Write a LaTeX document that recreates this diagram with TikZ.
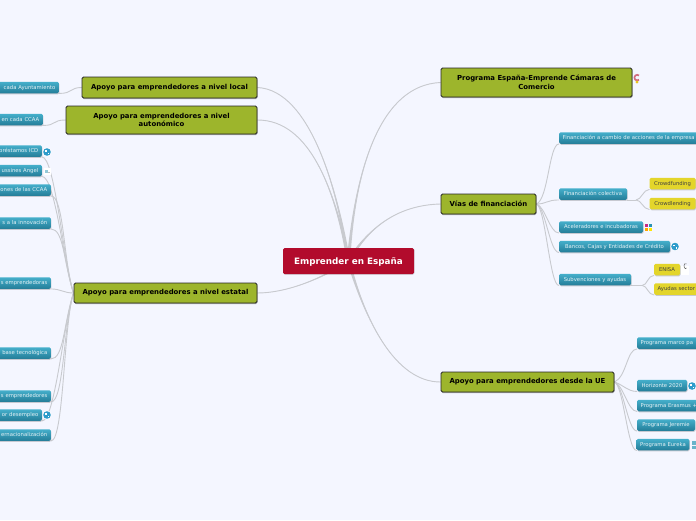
\documentclass[tikz,border=0pt]{standalone}
\usepackage{fontspec}
\setmainfont{DejaVu Sans}
\usetikzlibrary{backgrounds, shadows}
\definecolor{pageBlue}{HTML}{F4F6FF}
\definecolor{softRed}{HTML}{B20B2C}
\definecolor{softGreen}{HTML}{9DB52C}
\definecolor{softTeal}{HTML}{2A93B3}
\definecolor{softTealTop}{HTML}{45AFCB}
\definecolor{softYellow}{HTML}{E3D52B}
\definecolor{softGrey}{HTML}{C8CACF}
\definecolor{softGlobe}{HTML}{2E9CCB}
\newcommand{\globeicon}[1]{%
  \fill[white] (#1) circle (4.4);
  \fill[softGlobe] (#1) circle (3.8);
  \fill[white] (#1) ++(-1.8,-1.6) rectangle ++(1.8,1.4);
  \fill[white] (#1) ++(0.6,0.6) rectangle ++(1.6,1.6);
}
% branch from the root, wider where it leaves the root
\newcommand{\trunkto}[5]{%
  \fill[softGrey] ([shift={(-#4,-#5)}]root.center) .. controls #2 and #3 .. (#1) .. controls #3 and #2 .. ([shift={(#4,#5)}]root.center) -- cycle;
  \draw[softGrey, line width=0.9pt] (root.center) .. controls #2 and #3 .. (#1);
}
\tikzset{
  rootbox/.style={fill=softRed, rounded corners=1.5pt, text=white, font=\bfseries\fontsize{8.8}{10}\selectfont, minimum width=131, minimum height=26, text height=7pt, text depth=0.5pt, inner sep=0pt, drop shadow={shadow xshift=0.4pt, shadow yshift=-0.6pt, opacity=.2, fill=black}},
  mainbox/.style={draw=black!85, line width=0.9pt, fill=softGreen, rounded corners=1.5pt, text=black, align=center, font=\bfseries\fontsize{6.9}{8.8}\selectfont, inner sep=0pt, drop shadow={shadow xshift=0.5pt, shadow yshift=-1pt, opacity=.3, fill=black}},
  tealbox/.style={top color=softTealTop, bottom color=softTeal!85!black, rounded corners=1.5pt, text=white!88!softTeal, font=\fontsize{5.3}{7}\selectfont, minimum height=11.5, text height=4pt, text depth=1pt, inner xsep=3.5pt, inner ysep=0pt, drop shadow={shadow xshift=0.5pt, shadow yshift=-1pt, opacity=.18, fill=black}},
  leftbox/.style={tealbox, anchor=east, text width=100pt, align=right},
  rightbox/.style={tealbox, anchor=west, text width=180pt, align=left},
  sunbox/.style={fill=softYellow, rounded corners=1.5pt, text=black!75, font=\fontsize{5.3}{7}\selectfont, minimum height=11.5, text height=4pt, text depth=1pt, inner xsep=3.5pt, inner ysep=0pt, drop shadow={shadow xshift=0.5pt, shadow yshift=-1pt, opacity=.18, fill=black}},
  link/.style={softGrey, line width=0.9pt, line cap=round}
}
\begin{document}
\begin{tikzpicture}[x=1pt, y=-1pt]
  \useasboundingbox (0,0) rectangle (696,520);
  \clip (0,0) rectangle (696,520);
  % main topics
  \node[rootbox] (root) at (348.5,261) {Emprender en España};
  \node[mainbox, minimum width=175, minimum height=21] (local) at (169.5,87.5) {Apoyo para emprendedores a nivel local};
  \node[mainbox, minimum width=191, minimum height=28] (auton) at (161.5,120) {Apoyo para emprendedores a nivel\\autonómico};
  \node[mainbox, minimum width=183, minimum height=20] (estatal) at (165.5,293) {Apoyo para emprendedores a nivel estatal};
  \node[mainbox, minimum width=191, minimum height=29] (camaras) at (536.5,82.5) {Programa España-Emprende Cámaras de\\Comercio};
  \node[mainbox, minimum width=95, minimum height=20] (vias) at (488.5,204) {Vías de financiación};
  \node[mainbox, minimum width=173, minimum height=20] (union) at (527.5,382) {Apoyo para emprendedores desde la UE};
  % left side, cut by the page edge
  \node[leftbox] (ayto) at (59,87.5) {cada Ayuntamiento};
  \node[leftbox] (ccaa) at (43,119.5) {en cada CCAA};
  \node[leftbox] (icd) at (42,151) {préstamos ICD};
  \node[leftbox] (angel) at (42,170.5) {ussines Angel};
  \node[leftbox] (ayudas) at (51,190) {ones de las CCAA};
  \node[leftbox] (innova) at (51,223) {s a la innovación};
  \node[leftbox] (empras) at (51,283) {s emprendedoras};
  \node[leftbox] (tecno) at (51,353) {base tecnológica};
  \node[leftbox] (empres) at (51,396) {s emprendedores};
  \node[leftbox] (desem) at (42,415) {or desempleo};
  \node[leftbox] (inter) at (51,435) {ernacionalización};
  % right side
  \node[rightbox] (accion) at (559,138) {Financiación a cambio de acciones de la empresa};
  \node[tealbox, minimum width=68] (colect) at (593,194) {Financiación colectiva};
  \node[tealbox, minimum width=84] (acele) at (601,227) {Aceleradores e incubadoras};
  \node[tealbox, minimum width=111] (bancos) at (614.5,246.5) {Bancos, Cajas y Entidades de Crédito};
  \node[tealbox, minimum width=72] (subven) at (595,279.5) {Subvenciones y ayudas};
  \node[sunbox, minimum width=46] (cfund) at (672.5,183.5) {Crowdfunding};
  \node[sunbox, minimum width=46] (clend) at (672.5,203.5) {Crowdlending};
  \node[sunbox, minimum width=26] (enisa) at (667,269.5) {ENISA};
  \node[sunbox, anchor=west, text width=80pt] (sector) at (654,289) {Ayudas sector};
  \node[rightbox] (marco) at (637,343) {Programa marco pa};
  \node[tealbox, minimum width=50] (horiz) at (662,385.5) {Horizonte 2020};
  \node[rightbox] (erasmus) at (637,405.5) {Programa Erasmus +};
  \node[tealbox, minimum width=58] (jeremie) at (666,425) {Programa Jeremie};
  \node[tealbox, minimum width=52] (eureka) at (663,444.5) {Programa Eureka};
  % small icons
  \globeicon{47,152}
  \globeicon{47,415}
  \globeicon{675,246.5}
  \globeicon{692,386}
  \fill[white] (43.5,167.5) rectangle (50.5,174.5);
  \fill[softTeal!50] (45,170) rectangle (48,173);
  \fill[black!25] (48,171.5) rectangle (49.5,173);
  \fill[magenta!80!black] (644.5,223.5) rectangle (648,227);
  \fill[softTeal] (648.5,223.5) rectangle (652,227);
  \fill[orange!70!yellow] (644.5,227.5) rectangle (648,231);
  \fill[yellow!90!orange] (648.5,227.5) rectangle (652,231);
  \draw[softRed!60!white, line width=1.7pt] (639,79.8) arc (50:310:2.8);
  \fill[softYellow!80!orange] (637,82) circle (1.6);
  \fill[white] (680.5,266) rectangle (689,275);
  \draw[black!60, line width=0.6pt] (686.5,268) arc (50:310:1.5 and 2.7);
  \fill[softTeal!70] (691.5,441) rectangle (696,444.5);
  \fill[softTeal!70] (691.5,445.5) rectangle (696,449);
  \begin{pgfonlayer}{background}
    \fill[pageBlue] (0,0) rectangle (696,520);
    \trunkto{local.east}{(338,190)}{(310,90)}{1.8}{0}
    \trunkto{auton.east}{(335,190)}{(310,120)}{1.8}{0}
    \trunkto{estatal.east}{(320,280)}{(285,293)}{0}{1.8}
    \trunkto{camaras.west}{(355,170)}{(380,85)}{1.8}{0}
    \trunkto{vias.west}{(370,225)}{(400,205)}{1.3}{1.3}
    \trunkto{union.west}{(365,320)}{(395,382)}{1.8}{0}
    \draw[link] (local.west) .. controls +(-12,0) and +(14,0) .. (ayto.south east);
    \draw[link] (auton.west) .. controls +(-14,0) and +(14,0) .. (ccaa.south east);
    % far children come in steeply, near ones flat
    \foreach \kid in {icd, angel, ayudas, innova}
      \draw[link] (estatal.west) .. controls +(-10,-30) and +(13,0) .. (\kid.south east);
    \draw[link] (estatal.west) .. controls +(-10,0) and +(10,0) .. (empras.south east);
    \foreach \kid in {tecno, empres, desem, inter}
      \draw[link] (estatal.west) .. controls +(-10,30) and +(13,0) .. (\kid.south east);
    \draw[link] (vias.east) .. controls +(12,-5) and +(-10,0) .. (accion.south west);
    \draw[link] (vias.east) .. controls +(10,0) and +(-12,0) .. (colect.south west);
    \foreach \kid in {acele, bancos, subven}
      \draw[link] (vias.east) .. controls +(9,3) and +(-9,0) .. (\kid.south west);
    \draw[link] (union.east) .. controls +(12,-5) and +(-10,0) .. (marco.south west);
    \foreach \kid in {horiz, erasmus, jeremie, eureka}
      \draw[link] (union.east) .. controls +(9,3) and +(-9,0) .. (\kid.south west);
    \draw[link] (colect.south east) -- +(9,0) coordinate (forkA);
    \draw[link] (forkA) .. controls +(5,0) and +(-6,0) .. (cfund.south west);
    \draw[link] (forkA) .. controls +(5,0) and +(-6,0) .. (clend.south west);
    \draw[link] (subven.south east) -- +(11,0) coordinate (forkB);
    \draw[link] (forkB) .. controls +(5,0) and +(-6,0) .. (enisa.south west);
    \draw[link] (forkB) .. controls +(5,0) and +(-6,0) .. (sector.south west);
  \end{pgfonlayer}
\end{tikzpicture}
\end{document}
